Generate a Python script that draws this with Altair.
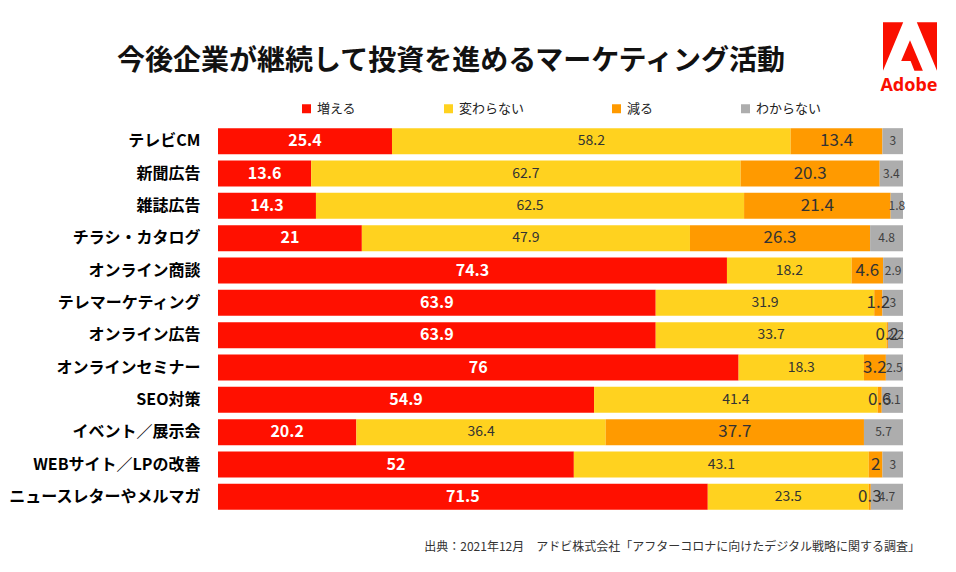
import altair as alt
import pandas as pd

categories = ["テレビCM", "新聞広告", "雑誌広告", "チラシ・カタログ", "オンライン商談",
              "テレマーケティング", "オンライン広告", "オンラインセミナー", "SEO対策",
              "イベント／展示会", "WEBサイト／LPの改善", "ニュースレターやメルマガ"]
increase = [25.4, 13.6, 14.3, 21, 74.3, 63.9, 63.9, 76, 54.9, 20.2, 52, 71.5]
unchanged = [58.2, 62.7, 62.5, 47.9, 18.2, 31.9, 33.7, 18.3, 41.4, 36.4, 43.1, 23.5]
decrease = [13.4, 20.3, 21.4, 26.3, 4.6, 1.2, 0.2, 3.2, 0.6, 37.7, 2, 0.3]
unknown = [3, 3.4, 1.8, 4.8, 2.9, 3, 2.2, 2.5, 3.1, 5.7, 3, 4.7]

series_names = ["増える", "変わらない", "減る", "わからない"]
series_colors = ["#FF1000", "#FFD21F", "#FF9A00", "#ADADAD"]

title_text = "今後企業が継続して投資を進めるマーケティング活動"
source_text = "出典：2021年12月　アドビ株式会社「アフターコロナに向けたデジタル戦略に関する調査」"
logo_text = "Adobe"

FONT = "Noto Sans CJK JP"

rows = []
for i, c in enumerate(categories):
    for j, vals in enumerate([increase, unchanged, decrease, unknown]):
        v = vals[i]
        rows.append({"cat": c, "series": series_names[j], "order": j,
                     "value": v, "label": f"{v:g}"})
df = pd.DataFrame(rows)

base = alt.Chart(df).transform_stack(
    stack="value", groupby=["cat"], as_=["s0", "s1"],
    sort=[alt.SortField("order")], offset="normalize"
).transform_calculate(mid="(datum.s0 + datum.s1) / 2")

yenc = alt.Y("cat:N", sort=categories, title=None,
             scale=alt.Scale(paddingInner=0.2, paddingOuter=0.1),
             axis=alt.Axis(labelFont=FONT, labelFontSize=16, labelFontWeight="bold",
                           labelColor="#000000", labelPadding=18, ticks=False,
                           domain=False, labelLimit=300))
xscale = alt.Scale(domain=[0, 1], nice=False, zero=True)

bars = base.mark_bar(size=26).encode(
    x=alt.X("s0:Q", scale=xscale, axis=None),
    x2="s1:Q",
    y=yenc,
    color=alt.Color("series:N", scale=alt.Scale(domain=series_names, range=series_colors),
                    legend=alt.Legend(title=None, orient="none", legendX=82, legendY=-23,
                                      direction="horizontal", columns=4, columnPadding=85,
                                      symbolType="square", symbolSize=81, symbolStrokeWidth=0,
                                      labelFont=FONT, labelFontSize=13, labelColor="#222222",
                                      labelOffset=4, padding=0)),
)

styles = [
    dict(color="#FFFFFF", fontSize=16, fontWeight="bold"),
    dict(color="#333333", fontSize=14, fontWeight="normal"),
    dict(color="#333333", fontSize=17, fontWeight="normal"),
    dict(color="#404040", fontSize=12, fontWeight="normal"),
]
texts = []
for j, st in enumerate(styles):
    texts.append(
        base.transform_filter(f"datum.order == {j}").mark_text(
            font=FONT, baseline="middle", align="center", **st
        ).encode(
            x=alt.X("mid:Q", scale=xscale, axis=None),
            y=alt.Y("cat:N", sort=categories),
            text="label:N",
        )
    )

one = pd.DataFrame({"t": [title_text], "s": [source_text], "l": [logo_text]})
title = alt.Chart(one).mark_text(font=FONT, fontSize=28, fontWeight="bold",
                                 color="#111111", align="center", baseline="middle").encode(
    x=alt.value(233), y=alt.value(-63), text="t:N")
source = alt.Chart(one).mark_text(font=FONT, fontSize=12, color="#333333",
                                  align="right", baseline="middle").encode(
    x=alt.value(702), y=alt.value(422), text="s:N")

adobe_path = ("M-0.252,-0.897L-1,-0.897L-1,0.897Z "
              "M0.252,-0.897L1,-0.897L1,0.897Z "
              "M0,-0.236L0.477,0.897L0.164,0.897L0.022,0.536L-0.327,0.536Z")
logo_mark = alt.Chart(one).mark_point(shape=adobe_path, filled=True, fill="#FA0F00",
                                      stroke=None, strokeWidth=0, opacity=1,
                                      size=2916).encode(
    x=alt.value(692), y=alt.value(-78.5))
logo_word = alt.Chart(one).mark_text(font="Noto Sans", fontSize=18, fontWeight="bold",
                                     color="#FA0F00", align="center", baseline="middle").encode(
    x=alt.value(691), y=alt.value(-39), text="l:N")

chart = alt.layer(bars, *texts, title, source, logo_mark, logo_word).properties(
    width=685, height=388,
    autosize=alt.AutoSizeParams(type="none"),
    padding={"left": 218, "top": 125, "right": 53, "bottom": 59},
    background="#FFFFFF",
).configure_view(stroke=None)

chart.save("out.html", embed_options={"renderer": "svg", "actions": False})
